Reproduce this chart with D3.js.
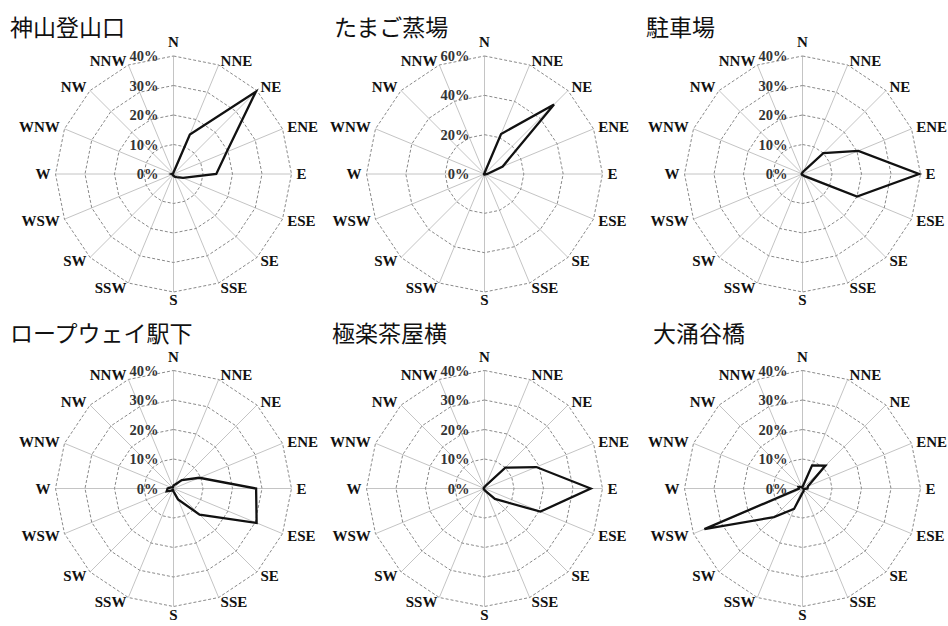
<!DOCTYPE html>
<html>
<head>
<meta charset="utf-8">
<script src="https://cdn.jsdelivr.net/npm/d3@7"></script>
<style>
  body { margin: 0; background: #fff; }
  svg { display: block; }
  .dir { font-family: "Liberation Serif", "Times New Roman", serif; font-weight: bold; font-size: 15px; fill: #111; }
  .tick { font-family: "Liberation Serif", "Times New Roman", serif; font-weight: bold; font-size: 14.5px; fill: #333; }
  .title { font-family: "Noto Sans CJK JP", sans-serif; font-size: 23px; fill: #111; }
</style>
</head>
<body>
<div id="chart"></div>
<script>
// 16 wind directions, clockwise from north
var directions = ["N","NNE","NE","ENE","E","ESE","SE","SSE","S","SSW","SW","WSW","W","WNW","NW","NNW"];

var titles = ["神山登山口", "たまご蒸場", "駐車場", "ロープウェイ駅下", "極楽茶屋横", "大涌谷橋"];

// frequency (%) per direction
var kamiyama   = [0.5, 14.5, 39.5, 19.5, 14.5, 3.5, 1.5, 1, 0.5, 0.5, 0.3, 0.3, 0.6, 0.3, 0.3, 0.3];
var tamago     = [0.5, 22, 50, 10, 1.5, 0.5, 0.3, 0.3, 0.3, 0.3, 0.3, 0.3, 0.3, 0.3, 0.3, 0.3];
var chushajo   = [0.5, 1, 10, 20.5, 39.5, 20, 1, 0.5, 0.3, 0.3, 0.3, 0.3, 0.3, 0.3, 0.3, 0.3];
var ropeway    = [1, 1.5, 4, 9.5, 28, 30.5, 12.5, 4, 1, 0.5, 1, 2.5, 2, 1, 0.5, 0.5];
var gokuraku   = [0.5, 1, 10, 19, 36, 20.5, 5, 1, 0.5, 0.3, 0.3, 0.3, 0.3, 0.3, 0.3, 0.3];
var owakudani  = [0.5, 8.5, 11, 2, 1.7, 0.5, 0.5, 1, 1.5, 7.5, 13.7, 36, 1.2, 1.5, 0.8, 0.3];

var series = [kamiyama, tamago, chushajo, ropeway, gokuraku, owakudani];

// tick values for each panel
var ticks40 = [0, 10, 20, 30, 40];
var ticks60 = [0, 20, 40, 60];
var panelTicks = [ticks40, ticks60, ticks40, ticks40, ticks40, ticks40];

var width = 948, height = 626;
var R = 118;
var centersX = [173.5, 484.5, 802.5],
    centersY = [174, 488.5];
var titlePos = [[10, 36], [334, 36], [646, 36], [10, 342], [332, 342], [653, 342]];

var svg = d3.select("#chart").append("svg")
    .attr("width", width)
    .attr("height", height);

var angle = d3.scaleLinear()
    .domain([0, directions.length])
    .range([0, 2 * Math.PI]);

series.forEach(function(values, i) {
    var cx = centersX[i % 3],
        cy = centersY[Math.floor(i / 3)],
        tks = panelTicks[i];

    var r = d3.scaleLinear()
        .domain([0, d3.max(tks)])
        .range([0, R]);

    var g = svg.append("g")
        .attr("transform", "translate(" + cx + "," + cy + ")");

    // spokes
    g.append("g").selectAll("line")
        .data(directions)
        .enter().append("line")
        .attr("x1", 0).attr("y1", 0)
        .attr("x2", (d, k) => R * Math.sin(angle(k)))
        .attr("y2", (d, k) => -R * Math.cos(angle(k)))
        .style("stroke", "#c4c4c4")
        .style("stroke-width", 1);

    // dashed polygon rings
    var ring = d3.lineRadial()
        .angle((d, k) => angle(k))
        .radius(d => d)
        .curve(d3.curveLinearClosed);

    g.append("g").selectAll("path")
        .data(tks.filter(t => t > 0))
        .enter().append("path")
        .attr("d", t => ring(directions.map(() => r(t))))
        .style("fill", "none")
        .style("stroke", "#8a8a8a")
        .style("stroke-width", 1)
        .style("stroke-dasharray", "3,2");

    // data line
    var line = d3.lineRadial()
        .angle((d, k) => angle(k))
        .radius(d => r(d))
        .curve(d3.curveLinearClosed);

    g.append("path")
        .datum(values)
        .attr("d", line)
        .style("fill", "none")
        .style("stroke", "#111")
        .style("stroke-width", 2.3)
        .style("stroke-linejoin", "miter");

    // tick labels along the north spoke
    g.append("g").selectAll("text")
        .data(tks)
        .enter().append("text")
        .attr("class", "tick")
        .attr("x", -15)
        .attr("y", t => -r(t))
        .attr("dy", "0.35em")
        .attr("text-anchor", "end")
        .text(t => t + "%");

    // direction labels
    var lr = R + 5;
    g.append("g").selectAll("text")
        .data(directions)
        .enter().append("text")
        .attr("class", "dir")
        .attr("x", (d, k) => lr * Math.sin(angle(k)))
        .attr("y", (d, k) => {
            var s = Math.sin(angle(k)), c = Math.cos(angle(k));
            var y = -lr * c;
            if (Math.abs(s) < 0.01) y += (c > 0 ? -9 : 3);
            return y;
        })
        .attr("dy", "0.35em")
        .attr("text-anchor", (d, k) => {
            var s = Math.sin(angle(k));
            return Math.abs(s) < 0.01 ? "middle" : (s > 0 ? "start" : "end");
        })
        .text(d => d);

    svg.append("text")
        .attr("class", "title")
        .attr("x", titlePos[i][0])
        .attr("y", titlePos[i][1])
        .text(titles[i]);
});
</script>
</body>
</html>
